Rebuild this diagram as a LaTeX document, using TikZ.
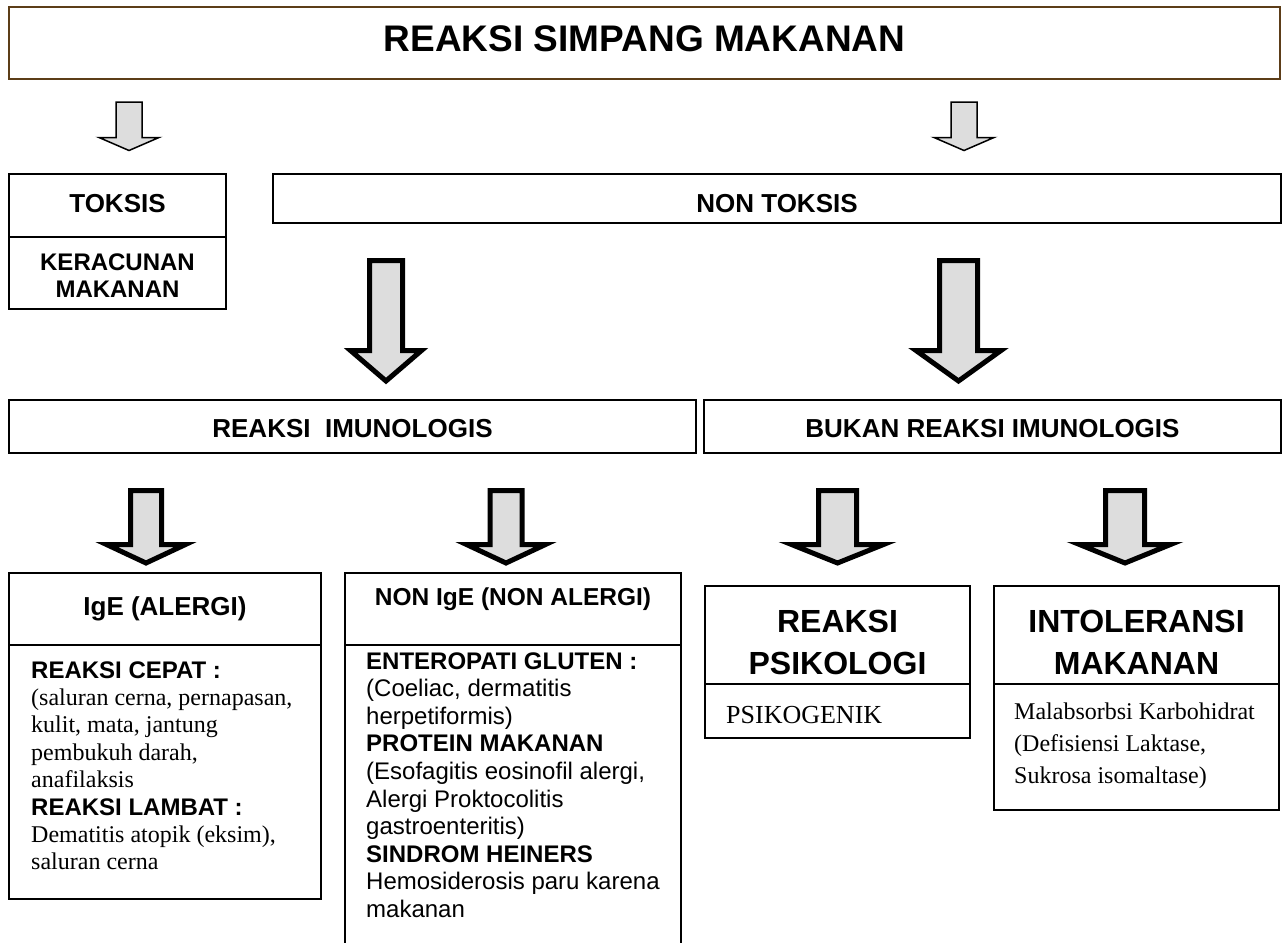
\documentclass[tikz,border=0pt]{standalone}
\usepackage{fontspec}
\setmainfont{Liberation Serif}
\setsansfont{Liberation Sans}
\definecolor{titlebrown}{RGB}{92,61,24}
\definecolor{arrowgray}{RGB}{221,221,221}
% #1 style, #2 cx, #3 top, #4 head top, #5 tip, #6 shaft half, #7 head half
\newcommand{\fatdown}[7]{%
  \draw[#1] (#2-#6,#3) -- (#2+#6,#3) -- (#2+#6,#4) -- (#2+#7,#4) -- (#2,#5)
    -- (#2-#7,#4) -- (#2-#6,#4) -- cycle;}
\tikzset{
  box/.style={draw=black, line width=1.8pt, inner sep=0pt, fill=white},
  titlebox/.style={box, draw=titlebrown, line width=2.6pt},
  headtext/.style={font=\sffamily\bfseries\fontsize{26}{30}\selectfont, inner sep=0pt, anchor=base},
  bigtext/.style={font=\sffamily\bfseries\fontsize{32}{42}\selectfont, inner sep=0pt, anchor=base, align=center},
  bodytext/.style={inner sep=0pt, anchor=base west},
  thinarrow/.style={draw=black, fill=arrowgray, line width=1.5pt, line join=miter},
  thickarrow/.style={draw=black, fill=arrowgray, line width=5pt, line join=miter}
}
\begin{document}
\begin{tikzpicture}[x=1pt, y=-1pt]
\useasboundingbox (0,0) rectangle (1284,942);
\clip (0,0) rectangle (1284,942);

% title
\node[titlebox, minimum width=1271pt, minimum height=72pt] (title) at (644.5,43) {};
\node[headtext, font=\sffamily\bfseries\fontsize{37}{40}\selectfont] (titlet) at (644.5,52) {REAKSI SIMPANG MAKANAN};

% top arrows
\fatdown{thinarrow}{129}{102}{137.5}{150.5}{13}{30}
\fatdown{thinarrow}{964}{102}{137.5}{150.5}{13}{30}

% toksis
\node[box, minimum width=217pt, minimum height=63pt] (toksis) at (117.5,205.5) {};
\node[box, minimum width=217pt, minimum height=72pt] (keracunan) at (117.5,273) {};
\node[headtext] (toksist) at (117.5,212) {TOKSIS};
\node[headtext, font=\sffamily\bfseries\fontsize{24}{27}\selectfont, align=center] (keracunant) at (117.5,297) {KERACUNAN\\MAKANAN};

% non toksis
\node[box, minimum width=1008pt, minimum height=49pt] (nontoksis) at (777,198.5) {};
\node[headtext] (nontoksist) at (777,212) {NON TOKSIS};

% big arrows
\fatdown{thickarrow}{386}{260.5}{350.5}{381}{16.5}{35.5}
\fatdown{thickarrow}{958.5}{260.5}{350.5}{381}{19}{42.5}

% level 2
\node[box, minimum width=687pt, minimum height=53pt] (imun) at (352.5,426.5) {};
\node[headtext] (imunt) at (352.5,437) {REAKSI\ \ IMUNOLOGIS};
\node[box, minimum width=577pt, minimum height=53pt] (bukan) at (992.5,426.5) {};
\node[headtext] (bukant) at (992.5,437) {BUKAN REAKSI IMUNOLOGIS};

% lower arrows
\fatdown{thickarrow}{146}{490.5}{544.5}{563}{15.5}{39.5}
\fatdown{thickarrow}{506}{490.5}{544.5}{563}{16}{39.5}
\fatdown{thickarrow}{837.5}{490.5}{544.5}{563}{19}{46}
\fatdown{thickarrow}{1125}{490.5}{544.5}{563}{19.5}{45.5}

% IgE
\node[box, minimum width=312pt, minimum height=72pt] (ige) at (165,609) {};
\node[box, minimum width=312pt, minimum height=254pt] (igebody) at (165,772) {};
\node[headtext] (iget) at (165,615) {IgE (ALERGI)};
\node[bodytext] (igebodyt) at (31,678) {\parbox[t]{285pt}{\fontsize{24}{27.4}\selectfont\raggedright
{\sffamily\bfseries REAKSI CEPAT :}\\
(saluran cerna, pernapasan,\\
kulit, mata, jantung\\
pembukuh darah,\\
anafilaksis\\
{\sffamily\bfseries REAKSI LAMBAT :}\\
Dematitis atopik (eksim),\\
saluran cerna}};

% NON IgE
\node[box, minimum width=336pt, minimum height=72pt] (nonige) at (513,609) {};
\node[box, minimum width=336pt, minimum height=315pt] (nonigebody) at (513,802.5) {};
\node[headtext, font=\sffamily\bfseries\fontsize{24.5}{28}\selectfont] (noniget) at (513,605) {NON IgE (NON ALERGI)};
\node[bodytext] (nonigebodyt) at (366,669) {\parbox[t]{310pt}{\sffamily\fontsize{24}{27.6}\selectfont\raggedright
{\bfseries ENTEROPATI GLUTEN :}\\
(Coeliac, dermatitis\\
herpetiformis)\\
{\bfseries PROTEIN MAKANAN}\\
(Esofagitis eosinofil alergi,\\
Alergi Proktocolitis\\
gastroenteritis)\\
{\bfseries SINDROM HEINERS}\\
Hemosiderosis paru karena\\
makanan}};

% Psikologi
\node[box, minimum width=265pt, minimum height=98pt] (psiko) at (837.5,635) {};
\node[box, minimum width=265pt, minimum height=54pt] (psikobody) at (837.5,711) {};
\node[bigtext] (psikot) at (837.5,674) {REAKSI\\PSIKOLOGI};
\node[bodytext, font=\fontsize{26}{30}\selectfont] (psikobodyt) at (726,723) {PSIKOGENIK};

% Intoleransi
\node[box, minimum width=285pt, minimum height=98pt] (intol) at (1136.5,635) {};
\node[box, minimum width=285pt, minimum height=126pt] (intolbody) at (1136.5,747) {};
\node[bigtext] (intolt) at (1136.5,674) {INTOLERANSI\\MAKANAN};
\node[bodytext] (intolbodyt) at (1014,719) {\parbox[t]{260pt}{\fontsize{24}{32}\selectfont\raggedright
Malabsorbsi Karbohidrat\\
(Defisiensi Laktase,\\
Sukrosa isomaltase)}};
\end{tikzpicture}
\end{document}
